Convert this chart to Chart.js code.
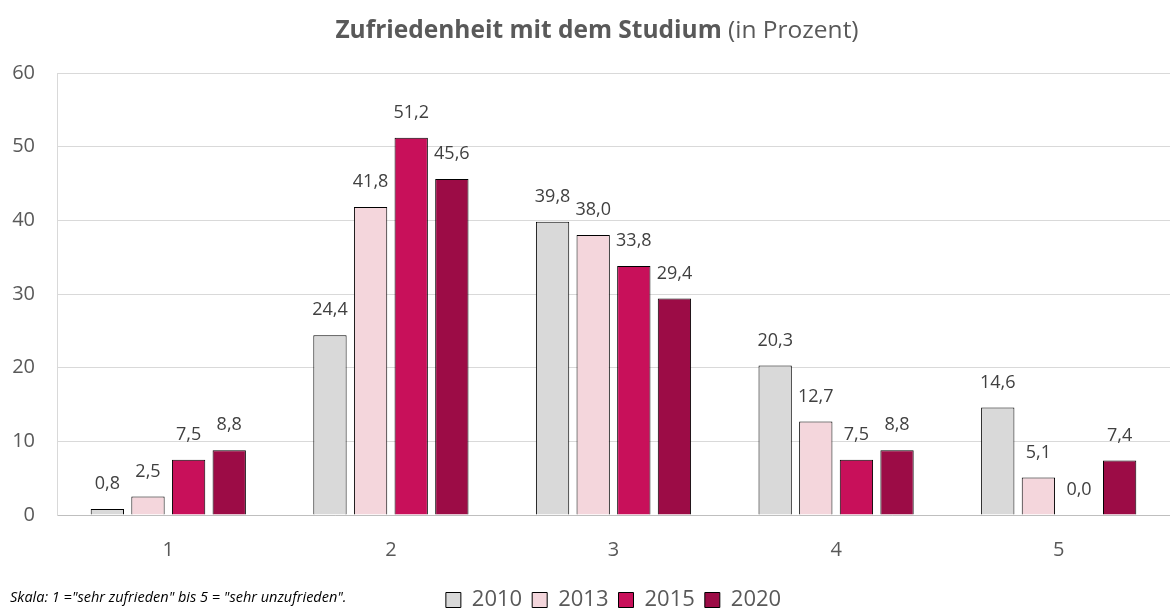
<!DOCTYPE html>
<html>
<head>
<meta charset="utf-8">
<script src="https://cdn.jsdelivr.net/npm/chart.js@4.4.1/dist/chart.umd.min.js"></script>
<style>
  html, body { margin: 0; padding: 0; background: #fff; }
  #wrap { position: relative; width: 1170px; height: 613px; }
</style>
</head>
<body>
<div id="wrap"><canvas id="chart" width="1170" height="613"></canvas></div>
<script>
// Kategorien und Werte (in Prozent)
const categories = ['1', '2', '3', '4', '5'];
const years = ['2010', '2013', '2015', '2020'];
const values2010 = [0.8, 24.4, 39.8, 20.3, 14.6];
const values2013 = [2.5, 41.8, 38.0, 12.7, 5.1];
const values2015 = [7.5, 51.2, 33.8, 7.5, 0.0];
const values2020 = [8.8, 45.6, 29.4, 8.8, 7.4];
const yTicks = [0, 10, 20, 30, 40, 50, 60];

const colors = ['#D9D9D9', '#F4D6DC', '#C8105A', '#9C0C46'];
const FONT = "'Open Sans', 'Noto Sans', sans-serif";
const textGray = '#595959';

// Titel mit fettem und normalem Teil, dazu die Fußnote
const titlePlugin = {
    id: 'mixedTitle',
    afterDraw(chart) {
        const ctx = chart.ctx;
        const boldPart = 'Zufriedenheit mit dem Studium';
        const normalPart = ' (in Prozent)';
        ctx.save();
        ctx.fillStyle = textGray;
        ctx.textBaseline = 'middle';
        ctx.font = 'bold 24.5px ' + FONT;
        const w1 = ctx.measureText(boldPart).width;
        ctx.font = '24.5px ' + FONT;
        const w2 = ctx.measureText(normalPart).width;
        const x = 597 - (w1 + w2) / 2;
        ctx.textAlign = 'left';
        ctx.font = 'bold 24.5px ' + FONT;
        ctx.fillText(boldPart, x, 31);
        ctx.font = '24.5px ' + FONT;
        ctx.fillText(normalPart, x + w1, 31);

        ctx.font = 'italic 14.5px ' + FONT;
        ctx.fillStyle = '#000';
        ctx.fillText('Skala: 1 ="sehr zufrieden" bis 5 = "sehr unzufrieden".', 10, 598);
        ctx.restore();
    }
};

// Datenbeschriftungen über den Balken
const labelPlugin = {
    id: 'barLabels',
    afterDatasetsDraw(chart) {
        const ctx = chart.ctx;
        ctx.save();
        ctx.font = '18px ' + FONT;
        ctx.fillStyle = '#404040';
        ctx.textAlign = 'center';
        ctx.textBaseline = 'middle';
        chart.data.datasets.forEach((ds, i) => {
            const meta = chart.getDatasetMeta(i);
            meta.data.forEach((bar, j) => {
                const txt = ds.data[j].toFixed(1).replace('.', ',');
                ctx.fillText(txt, bar.x, bar.y - 25);
            });
        });
        ctx.restore();
    }
};

const allValues = [values2010, values2013, values2015, values2020];

new Chart(document.getElementById('chart'), {
    type: 'bar',
    data: {
        labels: categories,
        datasets: years.map((y, i) => ({
            label: y,
            data: allValues[i],
            backgroundColor: colors[i],
            borderColor: '#000',
            borderWidth: 1,
            borderSkipped: 'bottom',
            categoryPercentage: 0.73,
            barPercentage: 0.82
        }))
    },
    options: {
        responsive: false,
        animation: false,
        layout: { padding: { top: 73, right: 0, left: 0, bottom: -8 } },
        plugins: {
            title: { display: false },
            tooltip: { enabled: false },
            legend: {
                position: 'bottom',
                fullSize: false,
                labels: {
                    boxWidth: 15,
                    boxHeight: 15,
                    padding: 10,
                    color: textGray,
                    font: { family: FONT, size: 22 }
                }
            }
        },
        scales: {
            x: {
                afterFit(scale) { scale.height = 64; },
                grid: { display: false },
                border: { color: '#BFBFBF' },
                ticks: { color: textGray, padding: 15, font: { family: FONT, size: 20 } }
            },
            y: {
                min: 0,
                max: 60,
                afterFit(scale) { scale.width = 57; },
                afterBuildTicks(scale) { scale.ticks = yTicks.map(v => ({ value: v })); },
                grid: { color: '#D9D9D9', drawTicks: false },
                border: { color: '#D9D9D9' },
                ticks: { color: textGray, padding: 22, font: { family: FONT, size: 20 } }
            }
        }
    },
    plugins: [titlePlugin, labelPlugin]
});
</script>
</body>
</html>
